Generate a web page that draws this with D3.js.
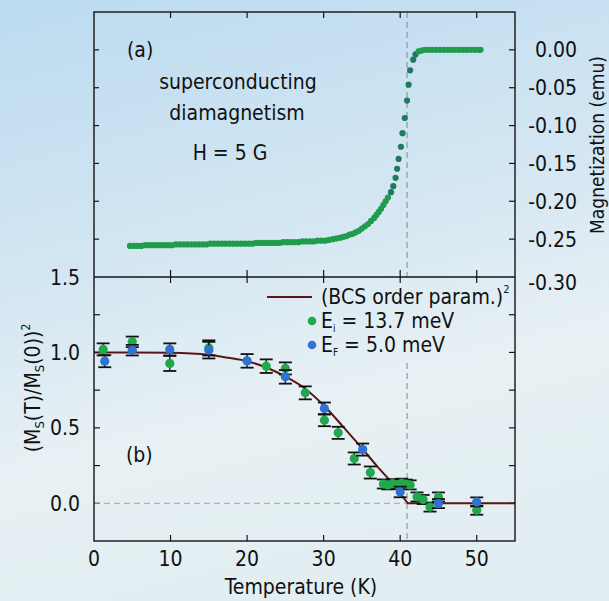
<!DOCTYPE html>
<html><head><meta charset="utf-8">
<script src="https://cdn.jsdelivr.net/npm/d3@7"></script>
<style>
html,body{margin:0;padding:0;background:#dbeaf3;}
svg{display:block;}
text{font-family:"Liberation Sans Narrow","DejaVu Sans Condensed","Roboto Condensed",sans-serif;fill:#111;}
</style></head>
<body>
<svg id="chart" width="609" height="601"></svg>
<script>
// ---------- data ----------
const magT = [4.7,5.2,5.7,6.2,6.7,7.2,7.7,8.2,8.7,9.2,9.7,10.2,10.7,11.2,11.7,12.2,12.7,13.2,13.7,14.2,14.7,15.2,15.7,16.2,16.7,17.2,17.7,18.2,18.7,19.2,19.7,20.2,20.7,21.2,21.7,22.2,22.7,23.2,23.7,24.2,24.7,25.2,25.7,26.2,26.7,27.2,27.7,28.2,28.7,29.2,29.7,30.2,30.7,31.2,31.7,32.2,32.6,33.0,33.4,33.8,34.2,34.6,35.0,35.4,35.8,36.2,36.6,36.9,37.2,37.5,37.8,38.1,38.4,38.8,39.1,39.4,39.6,39.8,40.1,40.3,40.6,40.9,41.1,41.3,41.7,42.0,42.4,42.8,43.2,43.7,44.2,44.7,45.2,45.7,46.2,46.7,47.2,47.7,48.2,48.7,49.2,49.7,50.2,50.5];
const magM = [-0.259,-0.259,-0.259,-0.259,-0.258,-0.258,-0.258,-0.258,-0.258,-0.258,-0.258,-0.258,-0.257,-0.257,-0.257,-0.257,-0.257,-0.257,-0.257,-0.257,-0.257,-0.256,-0.256,-0.256,-0.256,-0.256,-0.256,-0.256,-0.256,-0.256,-0.256,-0.256,-0.256,-0.255,-0.255,-0.255,-0.255,-0.255,-0.255,-0.255,-0.254,-0.254,-0.254,-0.254,-0.254,-0.253,-0.253,-0.253,-0.253,-0.252,-0.252,-0.252,-0.251,-0.250,-0.249,-0.248,-0.247,-0.246,-0.244,-0.243,-0.241,-0.239,-0.236,-0.233,-0.230,-0.226,-0.222,-0.218,-0.214,-0.210,-0.205,-0.200,-0.195,-0.188,-0.180,-0.169,-0.157,-0.144,-0.128,-0.110,-0.090,-0.067,-0.046,-0.027,-0.013,-0.006,-0.002,-0.001,0.000,0.000,0.000,0.000,0.000,0.000,0.000,0.000,0.000,0.000,0.000,0.000,0.000,0.000,0.000,0.000];

const bcsT = [0,5,10,15,17.5,20,22.5,25,27.5,30,32.5,35,37,38.7];
const bcsV = [1.0,1.0,0.998,0.985,0.965,0.942,0.90,0.84,0.763,0.65,0.51,0.365,0.245,0.15];
const bcsTailT = [38.7,41,55];
const bcsTailV = [0.15,0.0,0.0];

const greenT = [1.2,5.0,9.9,15.0,22.5,25.0,27.6,30.1,31.9,34.0,36.1,37.8,38.4,39.0,39.6,40.2,40.8,41.3,42.2,43.0,43.9,45.0,50.0];
const greenV = [1.02,1.07,0.927,1.03,0.909,0.894,0.732,0.551,0.467,0.297,0.204,0.128,0.122,0.130,0.124,0.133,0.127,0.122,0.042,0.025,-0.025,0.042,-0.046];
const greenE = [0.04,0.035,0.05,0.05,0.045,0.04,0.043,0.04,0.04,0.04,0.04,0.03,0.03,0.03,0.03,0.03,0.03,0.03,0.03,0.03,0.03,0.03,0.03];

const blueT = [1.4,5.0,9.9,15.0,20.0,25.0,30.1,35.1,40.0,45.0,50.0];
const blueV = [0.942,1.015,1.02,1.015,0.944,0.838,0.628,0.356,0.075,-0.002,0.009];
const blueE = [0.04,0.035,0.04,0.055,0.045,0.045,0.04,0.04,0.035,0.03,0.03];

const xTicks = [0,10,20,30,40,50];
const leftTicks = [0.0,0.5,1.0,1.5];
const leftMinor = [-0.25,0.25,0.75,1.25];
const rightTicks = [0.00,-0.05,-0.10,-0.15,-0.20,-0.25,-0.30];
const Tc = 40.9;

// ---------- layout ----------
const svg = d3.select("#chart");
const W = 609, H = 601;
const x = d3.scaleLinear().domain([0,55]).range([94,515]);
const yTop = d3.scaleLinear().domain([-0.30,0.05]).range([277,12]);
const yBot = d3.scaleLinear().domain([-0.25,1.5]).range([541,277]);
const GREEN = "#22a84c", BLUE = "#2f72d2", BCS = "#5a1616", FRAME = "#151515";

// background
const defs = svg.append("defs");
const g = defs.append("linearGradient").attr("id","bg").attr("x1",0).attr("y1",0).attr("x2",0.25).attr("y2",1);
g.append("stop").attr("offset","0%").attr("stop-color","#bcdbf0");
g.append("stop").attr("offset","45%").attr("stop-color","#d3e6f2");
g.append("stop").attr("offset","75%").attr("stop-color","#e8f1f4");
g.append("stop").attr("offset","100%").attr("stop-color","#e2eef2");
svg.append("rect").attr("width",W).attr("height",H).attr("fill","url(#bg)");

const fmtR = v => d3.format(".2f")(v).replace("\u2212","-");
const fmtL = v => d3.format(".1f")(v);

// ---------- top panel ----------
svg.append("line").attr("x1",x(Tc)).attr("x2",x(Tc)).attr("y1",yTop(0.05)).attr("y2",yTop(-0.30))
  .attr("stroke","#7d8a92").attr("stroke-width",1).attr("stroke-dasharray","6,4");

const magColor = t => (t > 38.6 && t < 42.1) ? "#217a5e" : "#1f9d4d";
svg.append("g").selectAll("circle").data(magT.map((t,i)=>[t,magM[i]])).join("circle")
  .attr("cx",d=>x(d[0])).attr("cy",d=>yTop(d[1])).attr("r",3.1)
  .attr("fill",d=>magColor(d[0]));

// ticks
const tk = svg.append("g").attr("stroke",FRAME).attr("stroke-width",1.2);
xTicks.filter(t=>t>0).forEach(t=>{
  tk.append("line").attr("x1",x(t)).attr("x2",x(t)).attr("y1",yTop(0.05)).attr("y2",yTop(0.05)+6);
  tk.append("line").attr("x1",x(t)).attr("x2",x(t)).attr("y1",yTop(-0.30)-7).attr("y2",yTop(-0.30)+6);
  tk.append("line").attr("x1",x(t)).attr("x2",x(t)).attr("y1",yBot(-0.25)).attr("y2",yBot(-0.25)-6);
});
rightTicks.filter(v=>v>-0.30).forEach(v=>{
  tk.append("line").attr("x1",x(55)).attr("x2",x(55)-6).attr("y1",yTop(v)).attr("y2",yTop(v));
  tk.append("line").attr("x1",x(0)).attr("x2",x(0)+5).attr("y1",yTop(v)).attr("y2",yTop(v));
});
leftTicks.concat(leftMinor).filter(v=>v>-0.25 && v<1.5).forEach(v=>{
  tk.append("line").attr("x1",x(0)).attr("x2",x(0)+6).attr("y1",yBot(v)).attr("y2",yBot(v));
  tk.append("line").attr("x1",x(55)).attr("x2",x(55)-6).attr("y1",yBot(v)).attr("y2",yBot(v));
});

// right axis labels
svg.append("g").selectAll("text").data(rightTicks).join("text")
  .attr("x",577).attr("y",d=>yTop(d)+(d===-0.30?5:0)).attr("dy","0.36em")
  .attr("text-anchor","end").attr("font-size",21).text(fmtR);
svg.append("text").attr("transform","translate(604,145) rotate(-90)")
  .attr("text-anchor","middle").attr("font-size",19).text("Magnetization (emu)");

// panel (a) labels
svg.append("text").attr("x",127).attr("y",57).attr("font-size",21).text("(a)");
svg.append("text").attr("x",238).attr("y",89).attr("text-anchor","middle").attr("font-size",21).text("superconducting");
svg.append("text").attr("x",237).attr("y",120).attr("text-anchor","middle").attr("font-size",21).text("diamagnetism");
svg.append("text").attr("x",230).attr("y",160).attr("text-anchor","middle").attr("font-size",21).text("H = 5 G");

// ---------- bottom panel ----------
svg.append("line").attr("x1",x(Tc)).attr("x2",x(Tc)).attr("y1",yBot(0.93)).attr("y2",yBot(-0.25))
  .attr("stroke","#7d8a92").attr("stroke-width",1).attr("stroke-dasharray","6,4");
svg.append("line").attr("x1",x(0)).attr("x2",x(Tc)).attr("y1",yBot(0)).attr("y2",yBot(0))
  .attr("stroke","#b09c9c").attr("stroke-width",1).attr("stroke-dasharray","6,4");

const lineGen = d3.line().x(d=>x(d[0])).y(d=>yBot(d[1]));
svg.append("path").attr("d",lineGen.curve(d3.curveMonotoneX)(bcsT.map((t,i)=>[t,bcsV[i]])))
  .attr("fill","none").attr("stroke",BCS).attr("stroke-width",2);
svg.append("path").attr("d",d3.line().x(d=>x(d[0])).y(d=>yBot(d[1]))(bcsTailT.map((t,i)=>[t,bcsTailV[i]])))
  .attr("fill","none").attr("stroke",BCS).attr("stroke-width",2);

function series(T,V,E,color){
  const data = T.map((t,i)=>({t,v:V[i],e:E[i]}));
  const eg = svg.append("g").attr("stroke","#111").attr("stroke-width",1.3);
  data.forEach(d=>{
    const cx = x(d.t), y1 = yBot(d.v+d.e), y2 = yBot(d.v-d.e);
    eg.append("line").attr("x1",cx).attr("x2",cx).attr("y1",y1).attr("y2",y2);
    eg.append("line").attr("x1",cx-6.5).attr("x2",cx+6.5).attr("y1",y1).attr("y2",y1).attr("stroke-width",1.8);
    eg.append("line").attr("x1",cx-6.5).attr("x2",cx+6.5).attr("y1",y2).attr("y2",y2).attr("stroke-width",1.8);
  });
  svg.append("g").selectAll("circle").data(data).join("circle")
    .attr("cx",d=>x(d.t)).attr("cy",d=>yBot(d.v)).attr("r",4.6).attr("fill",color);
}
series(greenT,greenV,greenE,GREEN);
series(blueT,blueV,blueE,BLUE);

// left axis labels
svg.append("g").selectAll("text").data(leftTicks).join("text")
  .attr("x",80).attr("y",d=>yBot(d)).attr("dy","0.36em").attr("text-anchor","end")
  .attr("font-size",21).text(fmtL);
const lt = svg.append("text").attr("transform","translate(40,388) rotate(-90)")
  .attr("text-anchor","middle").attr("font-size",21);
lt.append("tspan").text("(M");
lt.append("tspan").attr("font-size",13).attr("dy",4).text("S");
lt.append("tspan").attr("dy",-4).text("(T)/M");
lt.append("tspan").attr("font-size",13).attr("dy",4).text("S");
lt.append("tspan").attr("dy",-4).text("(0))");
lt.append("tspan").attr("font-size",12).attr("dy",-10).text("2");

// bottom axis labels
svg.append("g").selectAll("text").data(xTicks).join("text")
  .attr("x",d=>x(d)).attr("y",566).attr("text-anchor","middle").attr("font-size",21).text(d=>d);
svg.append("text").attr("x",301).attr("y",594).attr("text-anchor","middle").attr("font-size",21).text("Temperature (K)");

svg.append("text").attr("x",126).attr("y",462).attr("font-size",21).text("(b)");

// legend
svg.append("line").attr("x1",267).attr("x2",312).attr("y1",297).attr("y2",297).attr("stroke",BCS).attr("stroke-width",2);
const l1 = svg.append("text").attr("x",321).attr("y",304).attr("font-size",21);
l1.append("tspan").text("(BCS order param.)");
l1.append("tspan").attr("font-size",11).attr("dy",-11).text("2");
svg.append("circle").attr("cx",312).attr("cy",321).attr("r",4.3).attr("fill",GREEN);
const l2 = svg.append("text").attr("x",321).attr("y",328).attr("font-size",21);
l2.append("tspan").text("E");
l2.append("tspan").attr("font-size",10).attr("dy",4).text("i");
l2.append("tspan").attr("dy",-4).text(" = 13.7 meV");
svg.append("circle").attr("cx",312).attr("cy",345).attr("r",4.3).attr("fill",BLUE);
const l3 = svg.append("text").attr("x",321).attr("y",352).attr("font-size",21);
l3.append("tspan").text("E");
l3.append("tspan").attr("font-size",10).attr("dy",4).text("F");
l3.append("tspan").attr("dy",-4).text(" = 5.0 meV");

// frame
const fr = svg.append("g").attr("fill","none").attr("stroke",FRAME).attr("stroke-width",1.4);
fr.append("rect").attr("x",x(0)).attr("y",yTop(0.05)).attr("width",x(55)-x(0)).attr("height",yBot(-0.25)-yTop(0.05));
fr.append("line").attr("x1",x(0)).attr("x2",x(55)).attr("y1",yTop(-0.30)).attr("y2",yTop(-0.30));
</script>
</body></html>
